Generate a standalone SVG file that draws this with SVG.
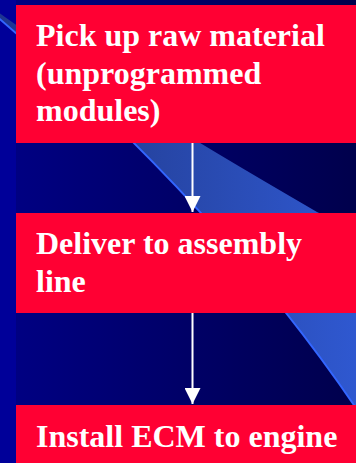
<svg xmlns="http://www.w3.org/2000/svg" width="356" height="463" viewBox="0 0 356 463">
  <defs>
    <linearGradient id="bg" gradientUnits="userSpaceOnUse" x1="16" y1="0" x2="356" y2="0">
      <stop offset="0" stop-color="#000082"/>
      <stop offset="1" stop-color="#00004c"/>
    </linearGradient>
    <linearGradient id="band" gradientUnits="userSpaceOnUse" x1="0" y1="0" x2="356" y2="0">
      <stop offset="0" stop-color="#1d3590"/>
      <stop offset="0.4" stop-color="#2644a2"/>
      <stop offset="1" stop-color="#2f58d0"/>
    </linearGradient>
    <marker id="arrow" viewBox="0 0 16 16" refX="16" refY="8" markerWidth="16" markerHeight="16" markerUnits="userSpaceOnUse" orient="auto">
      <path d="M0 0 L16 8 L0 16 Z" fill="#ffffff"/>
    </marker>
  </defs>
  <style>
    .node rect { fill: #ff0033; }
    .node text { fill: #ffffff; font-family: "Liberation Serif", "Times New Roman", serif; font-weight: bold; font-size: 32px; }
    .conn line { stroke: #ffffff; stroke-width: 2; }
  </style>

  <!-- background -->
  <rect x="0" y="0" width="356" height="463" fill="url(#bg)"/>
  <rect x="0" y="0" width="16" height="463" fill="#000099"/>
  <path d="M -5 15 Q 222.5 209.5 360 414 L 420 414 L 420 260 L 317 212 Q 104 89 -5 10 Z" fill="url(#band)"/>
  <path d="M -5 15 Q 222.5 209.5 360 414" fill="none" stroke="#3366ff" stroke-width="2"/>

  <g id="connectors" class="conn">
    <line x1="192.5" y1="143" x2="192.5" y2="212" marker-end="url(#arrow)"/>
    <line x1="192.5" y1="313" x2="192.5" y2="404" marker-end="url(#arrow)"/>
  </g>

  <g id="node1" class="node">
    <rect x="16" y="5" width="340" height="138"/>
    <text x="36" y="46">Pick up raw material</text>
    <text x="36" y="84">(unprogrammed</text>
    <text x="36" y="121">modules)</text>
  </g>
  <g id="node2" class="node">
    <rect x="16" y="213" width="340" height="100"/>
    <text x="36" y="254">Deliver to assembly</text>
    <text x="36" y="292">line</text>
  </g>
  <g id="node3" class="node">
    <rect x="16" y="405" width="340" height="58"/>
    <text x="36" y="447">Install ECM to engine</text>
  </g>
</svg>
